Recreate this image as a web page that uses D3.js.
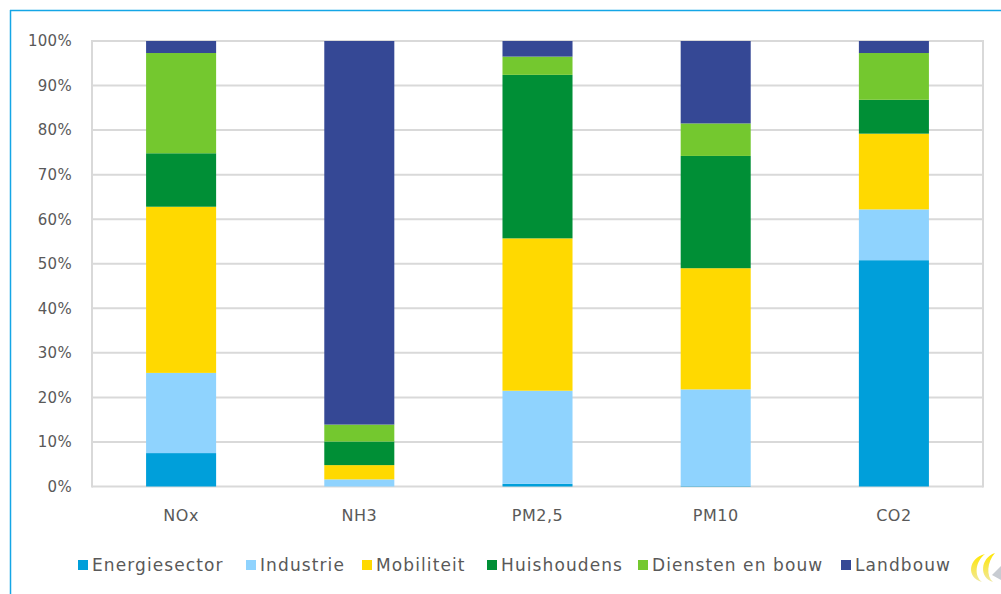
<!DOCTYPE html>
<html><head><meta charset="utf-8">
<script src="https://cdn.jsdelivr.net/npm/d3@7/dist/d3.min.js"></script>
<style>body{margin:0;background:#fff}svg{display:block}</style>
</head><body><svg id="c" width="1001" height="594"></svg>
<script>
const categories = ["NOx","NH3","PM2,5","PM10","CO2"];
const seriesNames = ["Energiesector","Industrie","Mobiliteit","Huishoudens","Diensten en bouw","Landbouw"];
const energiesector = [7.5, 0.0, 0.6, 0.1, 50.8];
const industrie     = [18.0, 1.6, 20.9, 21.7, 11.4];
const mobiliteit    = [37.3, 3.2, 34.2, 27.2, 17.0];
const huishoudens   = [12.0, 5.3, 36.7, 25.2, 7.6];
const diensten      = [22.5, 3.8, 4.1, 7.3, 10.5];
const landbouw      = [2.7, 86.1, 3.5, 18.5, 2.7];
const yTicks = [0,10,20,30,40,50,60,70,80,90,100];
const colors = ["#009fda","#8fd3fe","#ffd900","#008f36","#74c82f","#354895"];

const seriesVals = [energiesector, industrie, mobiliteit, huishoudens, diensten, landbouw];
const rows = categories.map((c,i)=>{const r={cat:c}; seriesNames.forEach((s,j)=>r[s]=seriesVals[j][i]); return r;});
const stack = d3.stack().keys(seriesNames)(rows);

const svg = d3.select("#c");
const font = "'DejaVu Sans', Verdana, sans-serif";
const m = {l:92, r:983, t:41, b:486.5};
const x = d3.scaleBand().domain(categories).range([m.l, m.r]).paddingInner(0.607).paddingOuter(0.3035);
const y = d3.scaleLinear().domain([0,100]).range([m.b, m.t]);

// frame
svg.append("line").attr("x1",10).attr("x2",1001).attr("y1",10.5).attr("y2",10.5).attr("stroke","#14a6e6").attr("stroke-width",1.5);
svg.append("line").attr("x1",10.5).attr("x2",10.5).attr("y1",10).attr("y2",594).attr("stroke","#14a6e6").attr("stroke-width",1.5);

// grid
svg.append("g").selectAll("line").data(yTicks).join("line")
  .attr("x1",m.l).attr("x2",m.r).attr("y1",d=>y(d)).attr("y2",d=>y(d))
  .attr("stroke","#d9d9d9").attr("stroke-width",2);
svg.append("line").attr("x1",m.l).attr("x2",m.l).attr("y1",m.t-1).attr("y2",m.b+1).attr("stroke","#d9d9d9").attr("stroke-width",2);
svg.append("line").attr("x1",m.r).attr("x2",m.r).attr("y1",m.t-1).attr("y2",m.b+1).attr("stroke","#d9d9d9").attr("stroke-width",2);

// y axis
const ya = svg.append("g").attr("transform",`translate(${m.l},0)`)
  .call(d3.axisLeft(y).tickValues(yTicks).tickFormat(d=>d+"%").tickSize(0).tickPadding(20));
ya.select(".domain").remove();
ya.selectAll("text").attr("font-family",font).attr("font-size",15).attr("fill","#595959").attr("letter-spacing","0.3px");

// bars
svg.append("g").selectAll("g").data(stack).join("g").attr("fill",(d,i)=>colors[i])
  .selectAll("rect").data(d=>d).join("rect")
  .attr("x",d=>x(d.data.cat)).attr("width",x.bandwidth())
  .attr("y",d=>y(d[1])).attr("height",d=>Math.max(0,y(d[0])-y(d[1])));

// x axis
const xa = svg.append("g").attr("transform",`translate(0,${m.b})`)
  .call(d3.axisBottom(x).tickSize(0).tickPadding(23));
xa.select(".domain").remove();
xa.selectAll("text").attr("font-family",font).attr("font-size",16).attr("fill","#595959").attr("letter-spacing","0.5px");

// legend
const legX = [78, 246, 362, 487, 638, 841];
const lg = svg.append("g").selectAll("g").data(seriesNames).join("g")
  .attr("transform",(d,i)=>`translate(${legX[i]},560)`);
lg.append("rect").attr("width",10).attr("height",10).attr("fill",(d,i)=>colors[i]);
lg.append("text").attr("x",14).attr("y",11).text(d=>d)
  .attr("font-family",font).attr("font-size",17).attr("fill","#595959").attr("letter-spacing","1.1px");

// logo hint
const defs = svg.append("defs");
const gr = defs.append("linearGradient").attr("id","lg1").attr("x1","0").attr("x2","0").attr("y1","0").attr("y2","1");
gr.append("stop").attr("offset","0").attr("stop-color","#ffe600");
gr.append("stop").attr("offset","1").attr("stop-color","#f0e8a0");
svg.append("path").attr("d","M985,554 C968,558 966,578 982,582 C974,576 975,562 985,554 Z").attr("fill","url(#lg1)");
svg.append("path").attr("d","M995,553 C980,558 979,578 993,582 C986,576 987,562 995,553 Z").attr("fill","url(#lg1)");
svg.append("path").attr("d","M992,575 L1001,566 L1001,580 Z").attr("fill","#c8ccd2");
</script></body></html>
